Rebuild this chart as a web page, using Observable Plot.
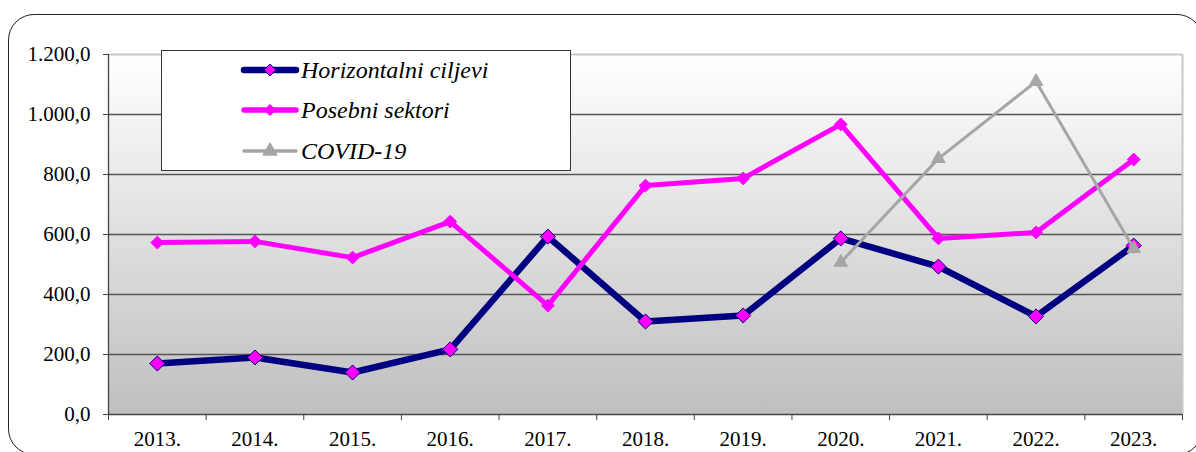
<!DOCTYPE html>
<html>
<head>
<meta charset="utf-8">
<script src="https://cdn.jsdelivr.net/npm/d3@7"></script>
<script src="https://cdn.jsdelivr.net/npm/@observablehq/plot@0.6"></script>
<style>
  html, body { margin: 0; padding: 0; background: #fff; }
  #wrap { position: relative; width: 1196px; height: 452px; overflow: hidden; }
  #frame { position: absolute; left: 8px; top: 14px; width: 1195px; height: 441px; border: 1.5px solid #222; border-radius: 26px; box-sizing: border-box; pointer-events: none; }
  #chart { position: absolute; left: 0; top: 0; }
  #legend { position: absolute; left: 161px; top: 50px; }
</style>
</head>
<body>
<div id="wrap">
  <div id="chart"></div>
  <div id="legend"></div>
  <div id="frame"></div>
</div>
<script>
const years = ["2013.", "2014.", "2015.", "2016.", "2017.", "2018.", "2019.", "2020.", "2021.", "2022.", "2023."];
const horizontalni = [170, 190, 140, 217, 593, 310, 330, 587, 493, 327, 563];
const posebni = [573, 577, 523, 643, 363, 763, 787, 967, 587, 607, 850];
const covidYears = ["2020.", "2021.", "2022.", "2023."];
const covid = [507, 853, 1110, 553];
const yTicks = [0, 200, 400, 600, 800, 1000, 1200];
const seriesNames = ["Horizontalni ciljevi", "Posebni sektori", "COVID-19"];

const idx = y => years.indexOf(y);
const dataH = years.map((y, i) => ({i, v: horizontalni[i]}));
const dataP = years.map((y, i) => ({i, v: posebni[i]}));
const dataC = covidYears.map((y, k) => ({i: idx(y), v: covid[k]}));

const loc = d3.formatLocale({decimal: ",", thousands: ".", grouping: [3], currency: ["", ""]});
const fmt = loc.format(",.1f");

const NAVY = "#000080", MAG = "#ff00ff", GRAY = "#a6a6a6";
const FONT = "Liberation Serif, Times New Roman, serif";

const chart = Plot.plot({
  width: 1196,
  height: 452,
  marginLeft: 108,
  marginRight: 14,
  marginTop: 54,
  marginBottom: 38,
  style: {fontFamily: FONT, fontSize: "21px", color: "#000", background: "transparent", overflow: "visible"},
  x: {domain: [-0.5, years.length - 0.5]},
  y: {domain: [0, 1200]},
  marks: [
    Plot.frame({fill: "url(#bggrad)", stroke: "none"}),
    Plot.ruleY(yTicks.filter(d => d > 0 && d < 1200), {stroke: "#555", strokeWidth: 1.3}),
    Plot.ruleY([1200], {stroke: "#c8c8c8", strokeWidth: 2}),
    Plot.ruleX([years.length - 0.5], {stroke: "#c8c8c8", strokeWidth: 2}),
    Plot.ruleY([0], {stroke: "#444", strokeWidth: 1.3}),
    Plot.ruleX([-0.5], {stroke: "#444", strokeWidth: 1.3}),
    Plot.axisY({ticks: yTicks, tickFormat: fmt, tickSize: 5, tickPadding: 13, stroke: "#444", label: null}),
    Plot.axisX({ticks: d3.range(years.length), tickFormat: i => years[i], tickSize: 0, tickPadding: 17, label: null}),
    Plot.axisX({ticks: d3.range(years.length + 1).map(i => i - 0.5), tickFormat: () => "", tickSize: 6, stroke: "#444", label: null}),
    Plot.line(dataH, {x: "i", y: "v", stroke: NAVY, strokeWidth: 6.5, strokeLinejoin: "round"}),
    Plot.dot(dataH, {x: "i", y: "v", symbol: "diamond2", r: 6.8, fill: MAG, stroke: NAVY, strokeWidth: 1}),
    Plot.line(dataP, {x: "i", y: "v", stroke: MAG, strokeWidth: 5, strokeLinejoin: "round"}),
    Plot.dot(dataP, {x: "i", y: "v", symbol: "diamond2", r: 5.8, fill: MAG, stroke: MAG, strokeWidth: 1}),
    Plot.line(dataC, {x: "i", y: "v", stroke: GRAY, strokeWidth: 3}),
    Plot.dot(dataC, {x: "i", y: "v", symbol: "triangle", r: 5, fill: GRAY, stroke: GRAY, strokeWidth: 1})
  ]
});

const defs = d3.select(chart).insert("defs", ":first-child");
const g = defs.append("linearGradient").attr("id", "bggrad").attr("x1", 0).attr("x2", 0).attr("y1", 0).attr("y2", 1);
g.append("stop").attr("offset", "0%").attr("stop-color", "#ffffff");
g.append("stop").attr("offset", "100%").attr("stop-color", "#bfbfbf");

document.getElementById("chart").appendChild(chart);

// Legend (SVG)
const samples = [
  {name: seriesNames[0], stroke: NAVY, width: 6.5, symbol: d3.symbolDiamond2, size: 90, fill: MAG, sstroke: NAVY},
  {name: seriesNames[1], stroke: MAG, width: 5.5, symbol: d3.symbolDiamond2, size: 80, fill: MAG, sstroke: MAG},
  {name: seriesNames[2], stroke: GRAY, width: 3.5, symbol: d3.symbolTriangle, size: 90, fill: GRAY, sstroke: GRAY}
];
const lsvg = d3.select("#legend").append("svg").attr("width", 411).attr("height", 122)
  .style("display", "block");
lsvg.append("rect").attr("x", 0.5).attr("y", 0.5).attr("width", 409).attr("height", 120)
  .attr("fill", "#fff").attr("stroke", "#333").attr("stroke-width", 1);
const rowY = [20, 60, 101];
samples.forEach((s, k) => {
  const gg = lsvg.append("g").attr("transform", `translate(0,${rowY[k]})`);
  gg.append("line").attr("x1", 83).attr("x2", 135).attr("y1", 0).attr("y2", 0)
    .attr("stroke", s.stroke).attr("stroke-width", s.width).attr("stroke-linecap", "round");
  gg.append("path").attr("transform", "translate(109,0)")
    .attr("d", d3.symbol(s.symbol, s.size)()).attr("fill", s.fill).attr("stroke", s.sstroke).attr("stroke-width", 1);
  gg.append("text").attr("x", 140).attr("y", 0).attr("dy", "0.35em")
    .attr("font-family", FONT).attr("font-style", "italic").attr("font-size", 24)
    .attr("fill", "#000").text(s.name);
});
</script>
</body>
</html>
